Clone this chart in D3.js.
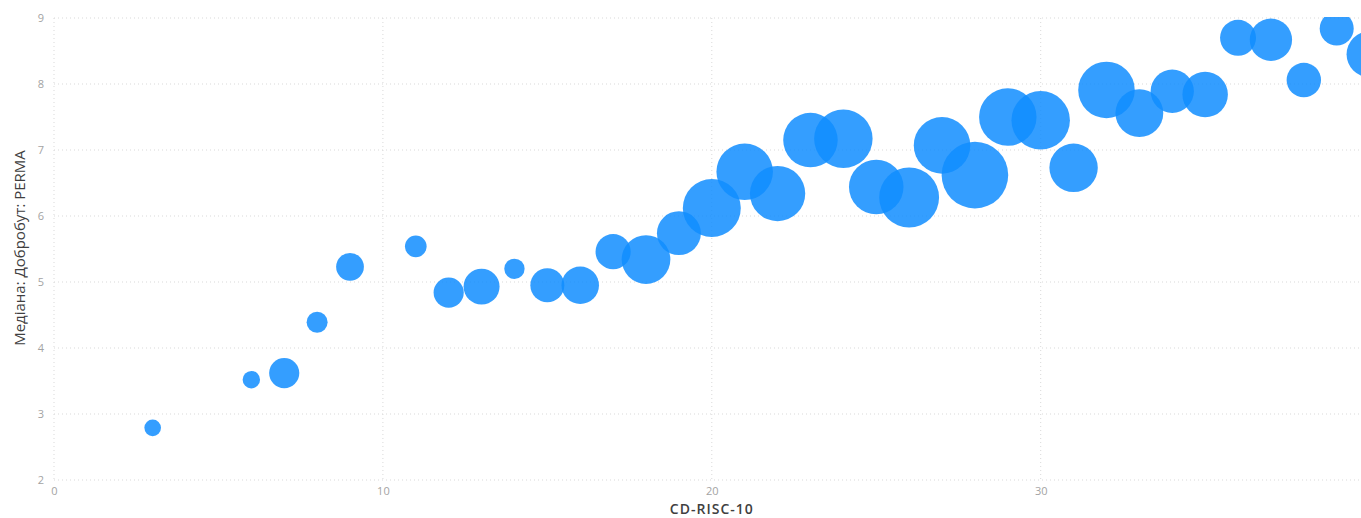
<!DOCTYPE html>
<html>
<head>
<meta charset="utf-8">
<script src="https://cdn.jsdelivr.net/npm/d3@7"></script>
<style>
  html, body { margin: 0; padding: 0; background: #fff; }
  svg { display: block; }
</style>
</head>
<body>
<div id="chart"></div>
<script>
// CD-RISC-10 score (x), median PERMA wellbeing (y), bubble size (relative count)
const cdRisc = [3, 6, 7, 8, 9, 11, 12, 13, 14, 15, 16, 17, 18, 19, 20, 21, 22, 23, 24, 25, 26, 27, 28, 29, 30, 31, 32, 33, 34, 35, 36, 37, 38, 39, 40];
const perma  = [2.79, 3.52, 3.62, 4.39, 5.23, 5.54, 4.84, 4.93, 5.20, 4.95, 4.95, 5.46, 5.34, 5.74, 6.12, 6.67, 6.34, 7.15, 7.17, 6.44, 6.28, 7.07, 6.62, 7.50, 7.45, 6.73, 7.91, 7.56, 7.89, 7.84, 8.70, 8.67, 8.06, 8.84, 8.45];
const sizes  = [1.0, 1.1, 3.3, 1.6, 2.8, 1.7, 3.3, 4.7, 1.5, 4.2, 5.1, 4.5, 8.6, 7.0, 12.2, 11.6, 11.1, 10.8, 12.4, 10.8, 13.0, 11.6, 16.1, 12.0, 12.4, 8.5, 11.6, 8.3, 6.8, 7.5, 4.7, 6.5, 4.3, 4.2, 7.7];
const xTicks = [0, 10, 20, 30];
const yTicks = [2, 3, 4, 5, 6, 7, 8, 9];
const xTitle = "CD-RISC-10";
const yTitle = "Медіана: Добробут: PERMA";

const W = 1361, H = 518;
const svg = d3.select("#chart").append("svg").attr("width", W).attr("height", H);

const x = d3.scaleLinear().domain([0, 40]).range([54, 1369.6]);
const y = d3.scaleLinear().domain([2, 9]).range([480, 18]);
const r = d3.scaleSqrt().domain([0, 16.1]).range([0, 33.3]);

const font = "'Open Sans', 'DejaVu Sans', sans-serif";

// gridlines
const grid = svg.append("g");
grid.selectAll("line.h").data(yTicks).join("line")
  .attr("x1", 54).attr("x2", W)
  .attr("y1", d => y(d)).attr("y2", d => y(d))
  .attr("stroke", "#d9d9d9").attr("stroke-width", 1)
  .attr("stroke-dasharray", "1,3");
grid.selectAll("line.v").data(xTicks).join("line")
  .attr("x1", d => x(d)).attr("x2", d => x(d))
  .attr("y1", y(9)).attr("y2", y(2))
  .attr("stroke", "#d9d9d9").attr("stroke-width", 1)
  .attr("stroke-dasharray", "1,3");

// axes
const xAxis = svg.append("g").attr("transform", `translate(0,${y(2) + 4})`)
  .call(d3.axisBottom(x).tickValues(xTicks).tickFormat(d3.format("d")).tickSize(0).tickPadding(3));
const yAxis = svg.append("g").attr("transform", `translate(${x(0) - 10},0)`)
  .call(d3.axisLeft(y).tickValues(yTicks).tickFormat(d3.format("d")).tickSize(0).tickPadding(0));
[xAxis, yAxis].forEach(a => {
  a.select(".domain").remove();
  a.selectAll("text").attr("fill", "#a3a3a3").style("font-family", font).style("font-size", "11px");
});

// clip
svg.append("clipPath").attr("id", "plot").append("rect")
  .attr("x", 40).attr("y", 17).attr("width", W).attr("height", 480 - 17 + 20);

const data = cdRisc.map((d, i) => ({ x: d, y: perma[i], s: sizes[i] }));
svg.append("g").attr("clip-path", "url(#plot)")
  .selectAll("circle").data(data).join("circle")
  .attr("cx", d => x(d.x)).attr("cy", d => y(d.y)).attr("r", d => r(d.s))
  .attr("fill", "#118DFF").attr("fill-opacity", 0.85);

// titles
svg.append("text").attr("x", x(20)).attr("y", 514)
  .attr("text-anchor", "middle").attr("fill", "#404040")
  .style("font-family", font).style("font-size", "14px").style("font-weight", "600")
  .style("letter-spacing", "1px")
  .text(xTitle);
svg.append("text").attr("transform", `translate(25,248) rotate(-90)`)
  .attr("text-anchor", "middle").attr("fill", "#404040")
  .style("font-family", font).style("font-size", "15px")
  .text(yTitle);
</script>
</body>
</html>
